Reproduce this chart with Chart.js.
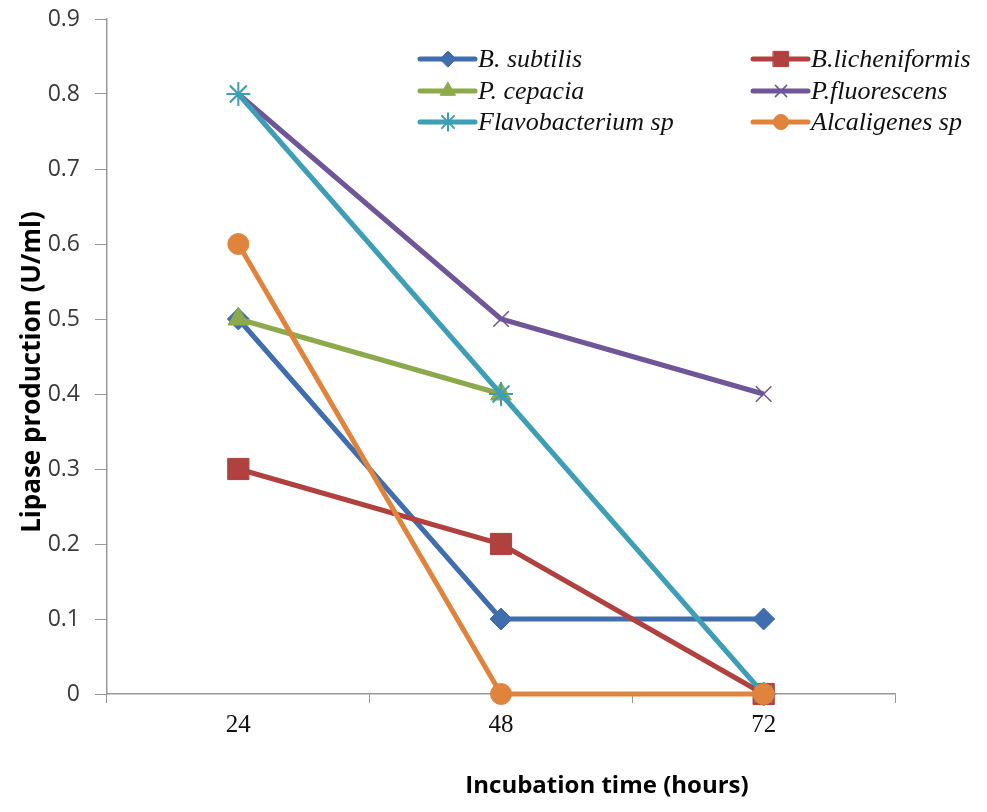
<!DOCTYPE html>
<html>
<head>
<meta charset="utf-8">
<script src="https://cdn.jsdelivr.net/npm/chart.js@4"></script>
<style>
  html, body { margin: 0; padding: 0; background: #fff; }
  #wrap { width: 987px; height: 812px; }
</style>
</head>
<body>
<div id="wrap"><canvas id="myChart" width="987" height="812"></canvas></div>
<script>
// incubation times (hours)
const hours = ['24', '48', '72'];

// lipase production (U/ml) per strain
const bSubtilis = [0.5, 0.1, 0.1];
const bLicheniformis = [0.3, 0.2, 0];
const pCepacia = [0.5, 0.4, null];
const pFluorescens = [0.8, 0.5, 0.4];
const flavobacterium = [0.8, 0.4, 0];
const alcaligenes = [0.6, 0, 0];

const yTickLabels = ['0', '0.1', '0.2', '0.3', '0.4', '0.5', '0.6', '0.7', '0.8', '0.9'];

const series = [
    { label: 'B. subtilis', data: bSubtilis, color: '#3F6DAE', style: 'rectRot', radius: 11, bw: 1 },
    { label: 'B.licheniformis', data: bLicheniformis, color: '#B0413E', style: 'rect', radius: 15, bw: 1 },
    { label: 'P. cepacia', data: pCepacia, color: '#8CAA4B', style: 'triangle', radius: 12, bw: 1 },
    { label: 'P.fluorescens', data: pFluorescens, color: '#6E5699', style: 'crossRot', radius: 11, bw: 1.5 },
    { label: 'Flavobacterium sp', data: flavobacterium, color: '#3D9EB5', style: 'star', radius: 12, bw: 2 },
    { label: 'Alcaligenes sp', data: alcaligenes, color: '#E0833C', style: 'circle', radius: 10.5, bw: 1 }
];

// legend drawn as line + marker, two columns like the original
const legendPlugin = {
    id: 'lineLegend',
    afterDraw(chart) {
        const c = chart.ctx;
        const cols = [420, 753];
        const rows = [59, 91, 122];
        c.save();
        series.forEach((s, i) => {
            const x = cols[i % 2];
            const y = rows[Math.floor(i / 2)];
            c.strokeStyle = s.color;
            c.lineWidth = 5;
            c.lineCap = 'round';
            c.beginPath();
            c.moveTo(x, y);
            c.lineTo(x + 55, y);
            c.stroke();
            c.fillStyle = s.color;
            c.strokeStyle = s.color;
            c.lineWidth = s.bw;
            Chart.helpers.drawPoint(c, { pointStyle: s.style, radius: s.radius * 0.72, borderWidth: s.bw, rotation: 0 }, x + 28, y);
            c.fillStyle = '#111';
            c.font = 'italic 26px "Liberation Serif"';
            c.textAlign = 'left';
            c.textBaseline = 'middle';
            c.fillText(s.label, x + 58, y + 1);
        });
        c.restore();
    }
};

// axis titles at the positions used in the original
const titlePlugin = {
    id: 'axisTitles',
    afterDraw(chart) {
        const c = chart.ctx;
        c.save();
        c.fillStyle = '#000';
        c.textAlign = 'center';
        c.textBaseline = 'middle';
        c.font = 'bold 24px "Open Sans"';
        c.fillText('Incubation time (hours)', 607, 786);
        c.font = 'bold 26px "Open Sans"';
        c.translate(33, 372);
        c.rotate(-Math.PI / 2);
        c.fillText('Lipase production (U/ml)', 0, 0);
        c.restore();
    }
};

const ctx = document.getElementById('myChart').getContext('2d');
const myChart = new Chart(ctx, {
    type: 'line',
    data: {
        labels: hours,
        datasets: series.map((s, i) => ({
            label: s.label,
            data: s.data,
            borderColor: s.color,
            backgroundColor: s.color,
            borderWidth: 5,
            pointStyle: s.style,
            pointRadius: s.radius,
            pointBorderWidth: s.bw,
            pointBackgroundColor: s.color,
            pointBorderColor: s.color,
            fill: false,
            tension: 0,
            spanGaps: false,
            clip: false,
            order: series.length - i
        }))
    },
    options: {
        responsive: false,
        animation: false,
        layout: { padding: { top: 19, right: 92, left: 0, bottom: 0 } },
        plugins: {
            legend: { display: false },
            tooltip: { enabled: false }
        },
        scales: {
            x: {
                offset: true,
                afterFit: s => { s.height = 118; s.paddingLeft = 0; s.paddingRight = 0; },
                grid: { drawOnChartArea: false, offset: true, tickLength: 9, color: '#999', lineWidth: 1 },
                border: { color: '#999', width: 1.5 },
                ticks: { color: '#111', padding: 7, font: { family: '"Liberation Serif"', size: 25 } }
            },
            y: {
                min: 0,
                max: 0.9,
                afterFit: s => { s.width = 107; s.paddingTop = 0; s.paddingBottom = 0; },
                grid: { drawOnChartArea: false, tickLength: 12, color: '#999', lineWidth: 1 },
                border: { color: '#999', width: 1.5 },
                ticks: {
                    stepSize: 0.1,
                    color: '#3a3a3a',
                    padding: 15,
                    font: { family: '"Open Sans"', size: 23 },
                    callback: (v, i) => yTickLabels[i]
                }
            }
        }
    },
    plugins: [legendPlugin, titlePlugin]
});
</script>
</body>
</html>
